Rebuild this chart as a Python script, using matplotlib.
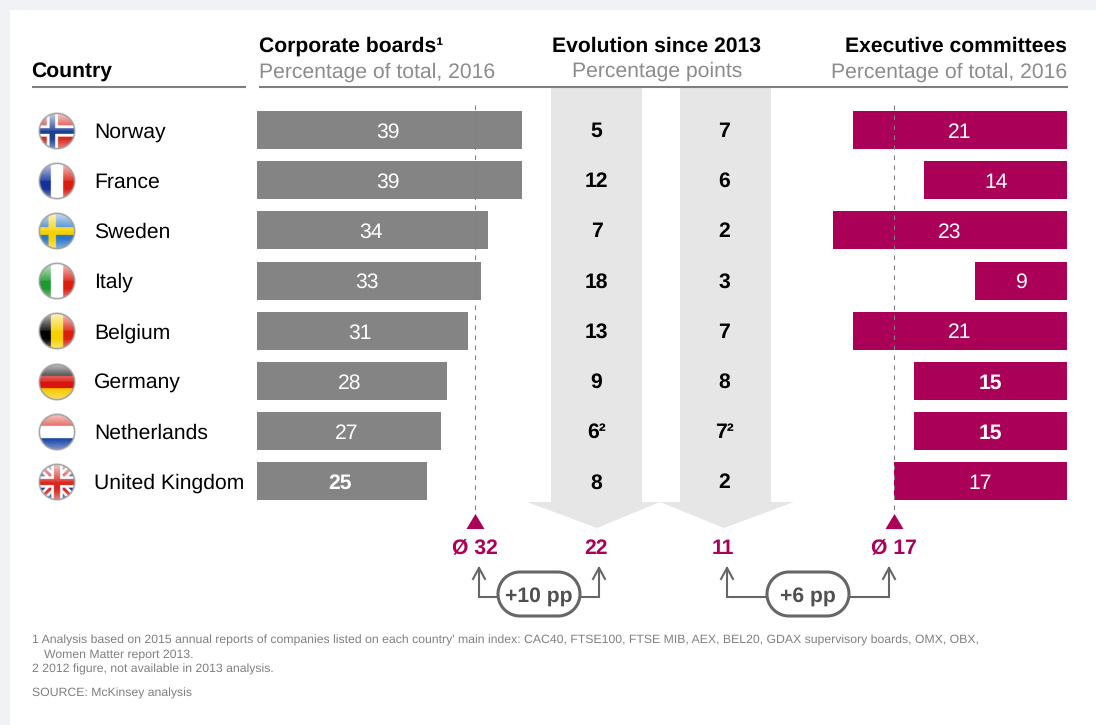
"""Women on boards / executive committees, table style chart."""

import matplotlib
matplotlib.use("Agg")
import matplotlib.pyplot as plt
import numpy as np
from matplotlib.patches import Polygon, Rectangle

plt.rcParams['font.family'] = ['Liberation Sans', 'DejaVu Sans']
plt.rcParams['text.hinting'] = 'no_hinting'

# data
countries = ['Norway', 'France', 'Sweden', 'Italy', 'Belgium', 'Germany', 'Netherlands', 'United Kingdom']
boards = [39, 39, 34, 33, 31, 28, 27, 25]
evolution_boards = ['5', '12', '7', '18', '13', '9', '6²', '8']
evolution_exec = ['7', '6', '2', '3', '7', '8', '7²', '2']
exec_committees = [21, 14, 23, 9, 21, 15, 15, 17]
boards_avg = 32
exec_avg = 17
evolution_boards_total = 22
evolution_exec_total = 11
gap_boards = '+10 pp'
gap_exec = '+6 pp'

GREY = '#848484'
CRIMSON = '#ab0058'
ARROW = '#e6e6e6'
LINK = '#666666'
W, H = 1096, 725
ROW0, ROW_STEP = 130, 50.2
TRIANGLE = [(-9, -7.5), (9, -7.5), (0, 7.5)]


def add_px_axes(fig, x0, x1, y0, y1):
    # axes placed with pixel coordinates (y going down)
    ax = fig.add_axes([x0 / W, 1 - y1 / H, (x1 - x0) / W, (y1 - y0) / H])
    ax.set_ylim((y1 - ROW0) / ROW_STEP, (y0 - ROW0) / ROW_STEP)
    ax.axis('off')
    ax.patch.set_alpha(0)
    return ax


def flag_image(name, size=148):
    """Small glossy round flag as an RGBA array."""
    yy, xx = np.mgrid[-1:1:size * 1j, -1:1:size * 1j]
    img = np.ones((size, size, 3))

    def fill(mask, hex_col):
        img[mask] = matplotlib.colors.to_rgb(hex_col)

    if name == 'Norway':
        fill(np.ones_like(xx, bool), '#d8281f')
        fill((abs(yy) < 0.3) | (abs(xx + 0.25) < 0.3), '#ffffff')
        fill((abs(yy) < 0.15) | (abs(xx + 0.25) < 0.15), '#1c3f94')
    elif name == 'France':
        fill(xx < -0.33, '#14329c')
        fill(xx > 0.33, '#dc1e10')
    elif name == 'Sweden':
        fill(np.ones_like(xx, bool), '#2a78c8')
        fill((abs(yy) < 0.2) | (abs(xx + 0.25) < 0.2), '#f7d000')
    elif name == 'Italy':
        fill(xx < -0.33, '#1f9a2e')
        fill(xx > 0.33, '#dc1e10')
    elif name == 'Belgium':
        fill(xx < -0.33, '#000000')
        fill(abs(xx) <= 0.33, '#f7d000')
        fill(xx > 0.33, '#dc1e10')
    elif name == 'Germany':
        fill(yy < -0.33, '#000000')
        fill(abs(yy) <= 0.33, '#d8140c')
        fill(yy > 0.33, '#f7c800')
    elif name == 'Netherlands':
        fill(yy < -0.33, '#d8281f')
        fill(yy > 0.33, '#1f4aa8')
    else:
        fill(np.ones_like(xx, bool), '#1c3f94')
        d1, d2 = abs(yy - xx), abs(yy + xx)
        fill((d1 < 0.3) | (d2 < 0.3), '#ffffff')
        fill((d1 < 0.12) | (d2 < 0.12), '#d8281f')
        fill((abs(xx) < 0.3) | (abs(yy) < 0.3), '#ffffff')
        fill((abs(xx) < 0.17) | (abs(yy) < 0.17), '#d8281f')

    # gloss on the top half, soft glow at the bottom
    rr = np.hypot(xx, yy)
    gloss = np.clip(0.8 - 0.7 * (yy + 1), 0, 0.8) * (yy < -0.02)
    glow = np.clip((yy - 0.4) * 0.8, 0, 0.5)
    light = np.maximum(gloss, glow)[..., None]
    img = img * (1 - light) + light

    # grey rim and soft edge
    rim = np.clip((rr - 0.87) / 0.05, 0, 1)[..., None]
    img = img * (1 - rim) + rim * 0.62
    alpha = np.clip((1.0 - rr) / 0.05, 0, 1)
    return np.dstack([img, alpha])


def draw_pill(ax, x0, x1, y0, y1, edge):
    # stadium shape, ends are true half circles
    r = (y1 - y0) / 2
    t = np.linspace(-np.pi / 2, np.pi / 2, 40)
    right = np.column_stack([x1 - r + r * np.cos(t), (y0 + y1) / 2 + r * np.sin(t)])
    left = np.column_stack([x0 + r - r * np.cos(t[::-1]), (y0 + y1) / 2 + r * np.sin(t[::-1])])
    ax.add_patch(Polygon(np.vstack([right, left]), closed=True, facecolor='white', edgecolor=edge, lw=2.2, zorder=3))


fig = plt.figure(figsize=(W / 100, H / 100), dpi=100, facecolor='#f0f2f5')

# page background + pixel canvas
canvas = fig.add_axes([0, 0, 1, 1])
canvas.set_xlim(0, W)
canvas.set_ylim(H, 0)
canvas.axis('off')
canvas.add_patch(Rectangle((10, 10), W - 10, H - 10, facecolor='white', edgecolor='none'))

# big grey arrows behind the evolution columns
for x0, x1, hl, hr, tip in [(551, 642, 527, 660, 597), (680, 771, 660, 794, 724)]:
    canvas.add_patch(Polygon([(x0, 88), (x1, 88), (x1, 502), (hr, 502), (tip, 528), (hl, 502), (x0, 502)],
                             closed=True, facecolor=ARROW, edgecolor='none'))

# headers
HEAD = 15.25
canvas.text(31, 78, 'Country', fontsize=HEAD, fontweight='bold', va='baseline')
canvas.text(259, 52, 'Corporate boards¹', fontsize=HEAD, fontweight='bold', va='baseline')
canvas.text(259, 78, 'Percentage of total, 2016', fontsize=HEAD, color='#8c8c8c', va='baseline')
canvas.text(657, 52, 'Evolution since 2013', fontsize=HEAD, fontweight='bold', va='baseline', ha='center')
canvas.text(657, 77, 'Percentage points', fontsize=HEAD, color='#8c8c8c', va='baseline', ha='center')
canvas.text(1067, 52, 'Executive committees', fontsize=HEAD, fontweight='bold', va='baseline', ha='right')
canvas.text(1067, 78, 'Percentage of total, 2016', fontsize=HEAD, color='#8c8c8c', va='baseline', ha='right')
for x0, x1 in [(32, 246), (259, 1068)]:
    canvas.plot([x0, x1], [87, 87], color='#7f7f7f', lw=1.5, solid_capstyle='butt')

# rows: flags, names and evolution numbers
for i, name in enumerate(countries):
    y = ROW0 + i * ROW_STEP
    canvas.imshow(flag_image(name), extent=(37.5, 75, y + 19.5, y - 18), zorder=3, interpolation='antialiased')
    canvas.text(94, y + 7.5, name, fontsize=HEAD, va='baseline')
    canvas.text(596.5, y + 7, evolution_boards[i], fontsize=HEAD, fontweight='bold', ha='center', va='baseline')
    canvas.text(724, y + 7, evolution_exec[i], fontsize=HEAD, fontweight='bold', ha='center', va='baseline')
canvas.set_xlim(0, W)
canvas.set_ylim(H, 0)
canvas.set_aspect('auto')

rows = np.arange(len(countries))
BAR_H = 38 / ROW_STEP
LABEL_DROP = 7.5 / ROW_STEP

# corporate boards bars
ax_b = add_px_axes(fig, 257, 257 + 6.8 * 40, 100, 530)
ax_b.set_xlim(0, 40)
ax_b.barh(rows, boards, height=BAR_H, color=GREY)
ax_b.plot([boards_avg, boards_avg], [-0.5, 7.6], color='#808080', lw=0.8, ls=(0, (4, 5)), zorder=4)
ax_b.plot(boards_avg, 7.78, marker=TRIANGLE, ms=13, color=CRIMSON, mew=0, clip_on=False)
for i, v in enumerate(boards):
    ax_b.text(v / 2 - 0.3, i + LABEL_DROP, str(v), color='white', fontsize=HEAD, ha='center', va='baseline',
              fontweight='bold' if v == min(boards) else 'normal')

# executive committees bars, growing leftwards from the right edge
ax_e = add_px_axes(fig, 1067 - 10.19 * 25, 1067, 100, 530)
ax_e.set_xlim(25, 0)
ax_e.barh(rows, exec_committees, height=BAR_H, color=CRIMSON)
ax_e.plot([exec_avg, exec_avg], [-0.5, 7.6], color='#808080', lw=0.8, ls=(0, (4, 5)), zorder=4)
ax_e.plot(exec_avg, 7.78, marker=TRIANGLE, ms=13, color=CRIMSON, mew=0, clip_on=False)
for i, v in enumerate(exec_committees):
    ax_e.text(v / 2, i + LABEL_DROP, str(v), color='white', fontsize=HEAD, ha='center', va='baseline',
              fontweight='bold' if v == 15 else 'normal')

# totals under the arrows
for x, label in [(475, f'Ø {boards_avg}'), (596, str(evolution_boards_total)),
                 (723, str(evolution_exec_total)), (894, f'Ø {exec_avg}')]:
    canvas.text(x, 553.5, label, color=CRIMSON, fontsize=HEAD, fontweight='bold', ha='center', va='baseline')

# connectors with the pills
for xl, xr, p0, p1, label in [(479, 599, 498, 580, gap_boards), (727, 889, 767, 849, gap_exec)]:
    canvas.plot([xl, p0], [597, 597], color=LINK, lw=1.5, solid_capstyle='butt')
    canvas.plot([p1, xr], [597, 597], color=LINK, lw=1.5, solid_capstyle='butt')
    for xa in (xl, xr):
        canvas.plot([xa, xa], [597, 568], color=LINK, lw=1.5, solid_capstyle='projecting')
        canvas.plot([xa - 6, xa, xa + 6], [579, 568, 579], color=LINK, lw=1.5, solid_joinstyle='miter')
    draw_pill(canvas, p0, p1, 572, 616, LINK)
    canvas.text((p0 + p1) / 2, 603, label, color='#505050', fontsize=HEAD, fontweight='bold',
                ha='center', va='baseline', zorder=4)

# footnotes
NOTE = 8.8
notes = [
    (32, 644, "1 Analysis based on 2015 annual reports of companies listed on each country' main index: "
              "CAC40, FTSE100, FTSE MIB, AEX, BEL20, GDAX supervisory boards, OMX, OBX,"),
    (44, 658, 'Women Matter report 2013.'),
    (32, 673, '2 2012 figure, not available in 2013 analysis.'),
    (32, 697, 'SOURCE: McKinsey analysis'),
]
for x, y, txt in notes:
    canvas.text(x, y, txt, fontsize=NOTE, color='#808080', va='baseline')

fig.savefig('out.png', dpi=100, facecolor=fig.get_facecolor())
plt.close(fig)
